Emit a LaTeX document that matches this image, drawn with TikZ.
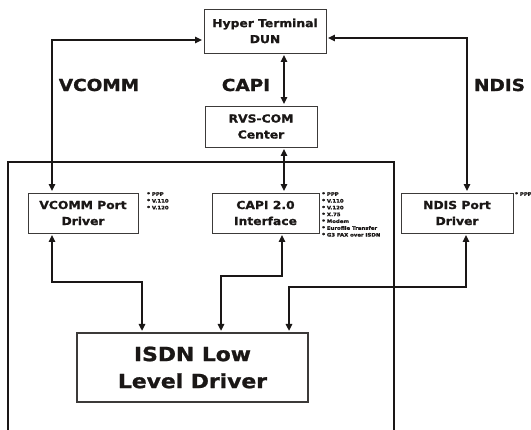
\documentclass[tikz,border=0pt]{standalone}
\usepackage{fontspec}
\usetikzlibrary{arrows.meta}
\newfontfamily\hb{DejaVu Sans}[FakeStretch=1.12,BoldFeatures={FakeBold=1.2}]
\definecolor{ink}{HTML}{1A1716}
\begin{document}
\begin{tikzpicture}[x=1pt,y=-1pt,
  box/.style={draw=ink!85, line width=0.9pt, fill=white, inner sep=0pt, text=ink, align=center,
    font=\hb\bfseries\fontsize{11}{16}\selectfont},
  conn/.style={draw=ink, line width=1.4pt,
    {Triangle[length=7pt,width=6.5pt]}-{Triangle[length=7pt,width=6.5pt]},
    shorten <=1.5pt, shorten >=1.5pt},
  lbl/.style={text=ink, font=\hb\bfseries\fontsize{16.5}{18}\selectfont, inner sep=0pt},
  note/.style={text=ink, font=\hb\bfseries\fontsize{4.8}{6.8}\selectfont, align=left,
    inner sep=0pt, anchor=north west}]
\clip (0,0) rectangle (531,430);
\fill[white] (0,0) rectangle (531,430);
% outer frame
\draw[ink, line width=1.8pt] (8,440) |- (394,162) -- (394,440);
% boxes
\node[box, minimum width=122pt, minimum height=44pt] (hyper) at (265,31) {Hyper Terminal\\DUN};
\node[box, minimum width=112pt, minimum height=41pt] (rvs) at (261,126.5) {RVS-COM\\Center};
\node[box, minimum width=110pt, minimum height=40pt] (vcd) at (83,213) {VCOMM Port\\Driver};
\node[box, minimum width=107pt, minimum height=40pt] (capd) at (265.5,213) {CAPI 2.0\\Interface};
\node[box, minimum width=112pt, minimum height=40pt] (ndd) at (457,213) {NDIS Port\\Driver};
\node[box, line width=1.3pt, minimum width=231pt, minimum height=69pt,
  font=\hb\bfseries\fontsize{19.5}{27}\selectfont] (isdn) at (192.5,367.5) {ISDN Low\\Level Driver};
% labels
\node[lbl] (lv) at (99,85) {VCOMM};
\node[lbl] (lc) at (246,85) {CAPI};
\node[lbl] (ln) at (499.5,85) {NDIS};
% notes
\node[note] (vn) at (147,192) {* PPP\\* V.110\\* V.120};
\node[note] (cn) at (322,192) {* PPP\\* V.110\\* V.120\\* X.75\\* Modem\\* Eurofile Transfer\\* G3 FAX over ISDN};
\node[note] (nn) at (515,192) {* PPP};
% connectors
\coordinate (vtop) at (52,40);
\draw[conn] (vcd.north -| vtop) -- (vtop) -- (hyper.west |- vtop);
\coordinate (ntop) at (467,38);
\draw[conn] (ndd.north -| ntop) -- (ntop) -- (hyper.east |- ntop);
\coordinate (cx) at (284,0);
\draw[conn] (hyper.south -| cx) -- (rvs.north -| cx);
\draw[conn] (rvs.south -| cx) -- (capd.north -| cx);
\coordinate (v1) at (52,282);
\coordinate (v2) at (142,282);
\draw[conn] (vcd.south -| v1) -- (v1) -- (v2) -- (isdn.north -| v2);
\coordinate (c1) at (282,276);
\coordinate (c2) at (221,276);
\draw[conn] (capd.south -| c1) -- (c1) -- (c2) -- (isdn.north -| c2);
\coordinate (n1) at (466,287);
\coordinate (n2) at (289,287);
\draw[conn] (ndd.south -| n1) -- (n1) -- (n2) -- (isdn.north -| n2);
\end{tikzpicture}
\end{document}
